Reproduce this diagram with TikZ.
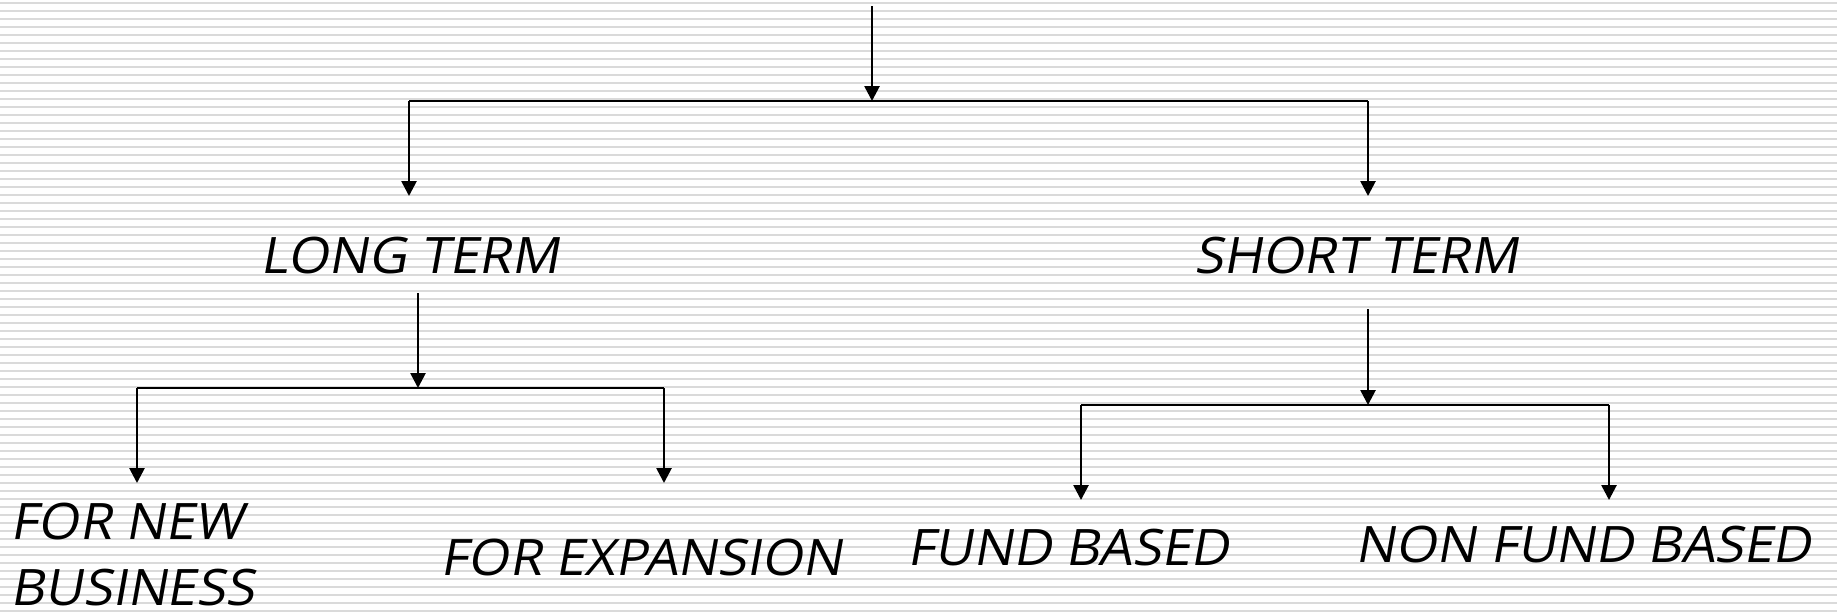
\documentclass[tikz,border=0pt]{standalone}
\usepackage{fontspec}
\setmainfont{Open Sans}[FakeSlant=0.18,FakeStretch=1.05]
\usetikzlibrary{arrows.meta}
\definecolor{cstripe}{RGB}{218,218,218}

\begin{document}
\begin{tikzpicture}[
  x=0.01cm, y=-0.01cm,
  font=\fontsize{14.3}{18.5}\selectfont,
  lbl/.style={anchor=base west,inner sep=0pt,align=left},
  flow/.style={-{Triangle[length=1.5mm,width=1.5mm]},line width=0.75pt},
  rail/.style={line width=0.6pt},
]
\useasboundingbox (0,0) rectangle (1837,614);
\fill[white] (0,0) rectangle (1837,614);
% ruled background
\foreach \i in {0,...,76}
  \draw[cstripe,line width=0.5pt] (0,2.7+8*\i) -- (1837,2.7+8*\i);

\node[lbl] (long)      at (260,273)  {LONG TERM};
\node[lbl] (short)     at (1194,273) {SHORT TERM};
\node[lbl] (newbiz)    at (10,605)   {FOR NEW\\BUSINESS};
\node[lbl] (expansion) at (440,575)  {FOR EXPANSION};
\node[lbl] (fund)      at (907,565)  {FUND BASED};
\node[lbl] (nonfund)   at (1355,562) {NON FUND BASED};

% first split
\coordinate (top)    at (872,6);
\coordinate (split)  at (872,101);
\coordinate (lsplit) at (409,101);
\coordinate (rsplit) at (1368,101);
\coordinate (lend)   at (409,196);
\coordinate (rend)   at (1368,196);
\draw[flow] (top) -- (split);
\draw[rail] (lsplit) -- (rsplit);
\draw[flow] (lsplit) -- (lend);
\draw[flow] (rsplit) -- (rend);

% long term branch
\coordinate (ltop) at (418,293);
\coordinate (lmid) at (418,388);
\coordinate (la)   at (137,388);
\coordinate (lb)   at (664,388);
\coordinate (laend) at (137,483);
\coordinate (lbend) at (664,483);
\draw[flow] (ltop) -- (lmid);
\draw[rail] (la) -- (lb);
\draw[flow] (la) -- (laend);
\draw[flow] (lb) -- (lbend);

% short term branch
\coordinate (stop) at (1368,309);
\coordinate (smid) at (1368,405);
\coordinate (sa)   at (1081,405);
\coordinate (sb)   at (1609,405);
\coordinate (saend) at (1081,500);
\coordinate (sbend) at (1609,500);
\draw[flow] (stop) -- (smid);
\draw[rail] (sa) -- (sb);
\draw[flow] (sa) -- (saend);
\draw[flow] (sb) -- (sbend);
\end{tikzpicture}
\end{document}
